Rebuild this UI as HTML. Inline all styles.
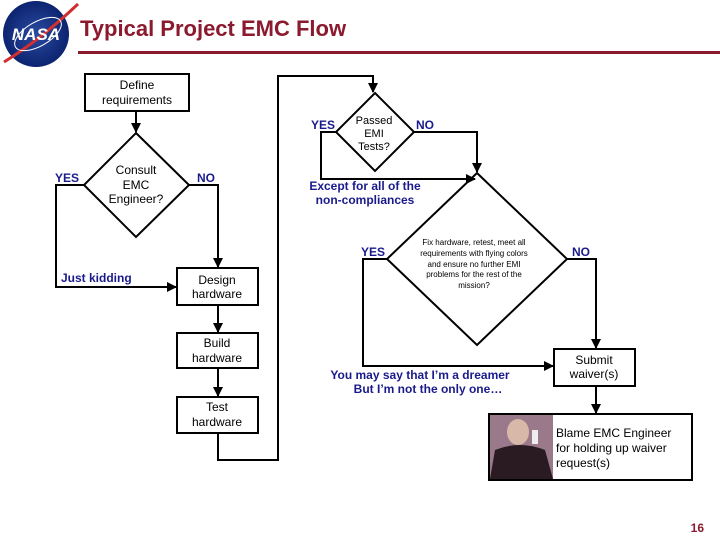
<!DOCTYPE html>
<html><head><meta charset="utf-8"><style>
html,body{margin:0;padding:0;background:#fff;}
svg{display:block;font-family:"Liberation Sans",Arial,sans-serif;}
</style></head><body>
<svg width="720" height="540" viewBox="0 0 720 540" xmlns="http://www.w3.org/2000/svg">
<defs>
<marker id="a" markerWidth="10" markerHeight="10" refX="9" refY="5" orient="auto" markerUnits="userSpaceOnUse">
<path d="M0,0 L10,5 L0,10 z" fill="#000"/></marker>
<radialGradient id="g" cx="50%" cy="50%" r="50%"><stop offset="0" stop-color="#2a4aa0"/><stop offset="1" stop-color="#0c2470"/></radialGradient>
</defs>
<!-- logo -->
<circle cx="36" cy="34" r="33" fill="url(#g)"/>
<path d="M4,62 Q40,40 78,4" stroke="#d03030" stroke-width="3" fill="none"/>
<ellipse cx="38" cy="34" rx="26" ry="12" fill="none" stroke="#fff" stroke-width="1" transform="rotate(-30 38 34)"/>
<text x="36" y="40" font-size="17" font-weight="bold" fill="#fff" text-anchor="middle" font-style="italic">NASA</text>
<!-- title -->
<text x="80" y="36" font-size="22" font-weight="bold" fill="#8b1a2e">Typical Project EMC Flow</text>
<rect x="78" y="51" width="642" height="3" fill="#8b1a2e"/>

<g stroke="#000" stroke-width="2" fill="#fff">
<rect x="85" y="74" width="104" height="37"/>
<polygon points="136,133 189,185 136,237 84,185"/>
<rect x="177" y="268" width="81" height="37"/>
<rect x="177" y="333" width="81" height="35"/>
<rect x="177" y="397" width="81" height="36"/>
<polygon points="375,93 414,132 375,171 336,132"/>
<polygon points="477,173 567,259 477,345 387,259"/>
<rect x="554" y="349" width="81" height="37"/>
<rect x="489" y="414" width="203" height="66"/>
</g>
<g stroke="#000" stroke-width="2" fill="none">
<line x1="136" y1="111" x2="136" y2="132" marker-end="url(#a)"/>
<polyline points="84,185 56,185 56,287 176,287" marker-end="url(#a)"/>
<polyline points="189,185 218,185 218,267" marker-end="url(#a)"/>
<line x1="218" y1="305" x2="218" y2="332" marker-end="url(#a)"/>
<line x1="218" y1="368" x2="218" y2="396" marker-end="url(#a)"/>
<polyline points="218,433 218,460 278,460 278,76 373,76 373,92" marker-end="url(#a)"/>
<polyline points="414,132 477,132 477,172" marker-end="url(#a)"/>
<polyline points="336,132 321,132 321,179 475,179" marker-end="url(#a)"/>
<polyline points="387,259 363,259 363,366 553,366" marker-end="url(#a)"/>
<polyline points="567,259 596,259 596,348" marker-end="url(#a)"/>
<line x1="596" y1="386" x2="596" y2="413" marker-end="url(#a)"/>
</g>
<!-- photo -->
<rect x="490" y="415" width="63" height="64" fill="#9a7a8a"/>
<ellipse cx="518" cy="432" rx="11" ry="13" fill="#d8b8a8"/>
<path d="M490,479 L495,450 Q520,440 545,450 L553,479 z" fill="#2a1a22"/>
<rect x="532" y="430" width="6" height="14" fill="#eee"/>

<g font-size="12" text-anchor="middle" fill="#000">
<text x="137" y="89">Define</text><text x="137" y="104">requirements</text>
<text x="136" y="174">Consult</text><text x="136" y="189">EMC</text><text x="136" y="203">Engineer?</text>
<text x="217" y="284">Design</text><text x="217" y="298">hardware</text>
<text x="217" y="347">Build</text><text x="217" y="362">hardware</text>
<text x="217" y="411">Test</text><text x="217" y="426">hardware</text>
<text x="374" y="124" font-size="11">Passed</text><text x="374" y="137" font-size="11">EMI</text><text x="374" y="150" font-size="11">Tests?</text>
<text x="594" y="364">Submit</text><text x="594" y="378">waiver(s)</text>
</g>
<g font-size="8" text-anchor="middle" fill="#000">
<text x="474" y="245">Fix hardware, retest, meet all</text>
<text x="474" y="256">requirements with flying colors</text>
<text x="474" y="267">and ensure no further EMI</text>
<text x="474" y="277">problems for the rest of the</text>
<text x="474" y="288">mission?</text>
</g>
<g font-size="12" fill="#000">
<text x="556" y="437">Blame EMC Engineer</text>
<text x="556" y="452">for holding up waiver</text>
<text x="556" y="467">request(s)</text>
</g>
<g font-size="12" font-weight="bold" fill="#1a1a8c">
<text x="55" y="182">YES</text>
<text x="197" y="182">NO</text>
<text x="311" y="129">YES</text>
<text x="416" y="129">NO</text>
<text x="361" y="256">YES</text>
<text x="572" y="256">NO</text>
<text x="61" y="282">Just kidding</text>
<text x="365" y="190" text-anchor="middle">Except for all of the</text>
<text x="365" y="204" text-anchor="middle">non-compliances</text>
<text x="420" y="379" text-anchor="middle">You may say that I’m a dreamer</text>
<text x="428" y="393" text-anchor="middle">But I’m not the only one…</text>
</g>
<text x="704" y="532" font-size="12" font-weight="bold" fill="#8b1a2e" text-anchor="end">16</text>
</svg>
</body></html>
